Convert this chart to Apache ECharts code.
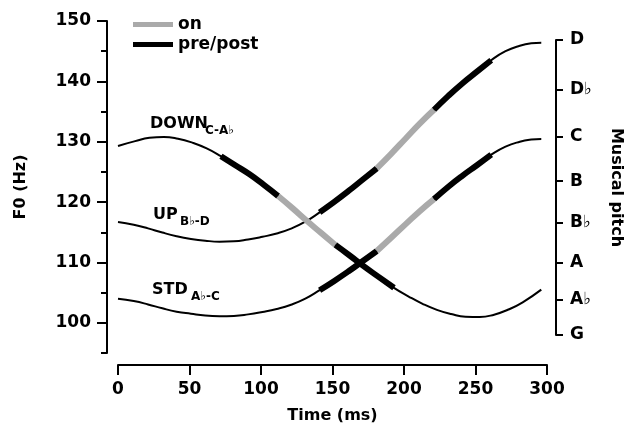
<!DOCTYPE html>
<html>
<head>
<meta charset="utf-8">
<script src="https://cdn.jsdelivr.net/npm/echarts@6/dist/echarts.min.js"></script>
<style>
  html, body { margin: 0; padding: 0; background: #fff; }
  #chart { width: 634px; height: 431px; }
</style>
</head>
<body>
<div id="chart"></div>
<script>
// F0 contours (time in ms, F0 in Hz)
const downTime = [0, 12, 22, 32, 42, 52, 62, 72, 82, 92, 102, 112, 122, 132, 142, 152, 162, 172, 182, 193, 203, 213, 223, 233, 243, 253, 263, 273, 283, 296];
const downF0 = [129.3, 130.1, 130.65, 130.8, 130.5, 129.85, 128.9, 127.6, 126.1, 124.6, 122.85, 121.0, 119.0, 116.9, 114.9, 112.9, 111.15, 109.35, 107.65, 105.8, 104.4, 103.15, 102.15, 101.45, 101.0, 100.95, 101.35, 102.2, 103.4, 105.5];

const upTime = [0, 11, 21, 31, 41, 51, 61, 71, 81, 91, 101, 111, 121, 131, 141, 151, 161, 171, 181, 191, 201, 211, 221, 231, 241, 251, 261, 271, 281, 289, 296];
const upF0 = [116.7, 116.25, 115.65, 114.95, 114.35, 113.9, 113.6, 113.45, 113.5, 113.8, 114.25, 114.8, 115.6, 116.75, 118.3, 120.0, 121.8, 123.7, 125.6, 128.0, 130.5, 133.0, 135.3, 137.6, 139.7, 141.6, 143.5, 145.0, 145.9, 146.3, 146.4];

const stdTime = [0, 11, 21, 31, 41, 51, 61, 71, 81, 91, 101, 111, 121, 131, 141, 151, 161, 171, 181, 191, 201, 211, 221, 231, 241, 251, 261, 271, 281, 289, 296];
const stdF0 = [104.0, 103.6, 103.05, 102.4, 101.85, 101.5, 101.2, 101.1, 101.15, 101.4, 101.8, 102.3, 103.0, 104.0, 105.4, 106.9, 108.5, 110.2, 111.9, 114.1, 116.3, 118.5, 120.5, 122.55, 124.4, 126.1, 127.85, 129.2, 130.0, 130.35, 130.45];

// phase boundaries: pre start, on start, post start, post end
const downPhases = [72, 112, 152, 193];
const upPhases = [141, 181, 221, 261];
const stdPhases = [141, 181, 221, 261];

const xTicks = [0, 50, 100, 150, 200, 250, 300];
const f0Major = [100, 110, 120, 130, 140, 150];
const f0Minor = [95, 105, 115, 125, 135, 145];
const pitchHz = [98.0, 103.83, 110.0, 116.54, 123.47, 130.81, 138.59, 146.83];
const pitchNames = ['G', 'A♭', 'A', 'B♭', 'B', 'C', 'D♭', 'D'];

const FONT = 'DejaVu Sans';
const GRAY = '#aaaaaa';

function pairs(times, vals, from, to) {
  const out = [];
  times.forEach((t, i) => {
    if (t >= from && t <= to) out.push([t, vals[i]]);
  });
  return out;
}

function thin(times, vals) {
  return {
    type: 'line', xAxisIndex: 0, yAxisIndex: 0,
    data: pairs(times, vals, -Infinity, Infinity),
    smooth: 0.5, showSymbol: false, silent: true,
    lineStyle: { color: '#000', width: 2 }, z: 2
  };
}

function thick(name, color, times, vals, from, to) {
  return {
    name: name, type: 'line', xAxisIndex: 0, yAxisIndex: 0,
    data: pairs(times, vals, from, to),
    smooth: 0.5, showSymbol: false, silent: true,
    itemStyle: { color: color },
    lineStyle: { color: color, width: 6, cap: 'butt' }, z: 3
  };
}

function phases(times, vals, p) {
  return [
    thick('pre/post', '#000', times, vals, p[0], p[1]),
    thick('on', GRAY, times, vals, p[1], p[2]),
    thick('pre/post', '#000', times, vals, p[2], p[3])
  ];
}

const tickLabel = { color: '#000', fontFamily: FONT, fontWeight: 'bold', fontSize: 17 };
const nameStyle = { color: '#000', fontFamily: FONT, fontWeight: 'bold', fontSize: 16 };
const axisLine = { show: true, onZero: false, lineStyle: { color: '#000', width: 2 } };

// curve label with subscript
function label(x, y, main, sub, subX, subY) {
  return [
    { type: 'text', x: x, y: y, style: { text: main, fill: '#000', font: 'bold 16px "' + FONT + '"', verticalAlign: 'middle' } },
    { type: 'text', x: subX, y: subY, style: { text: sub, fill: '#000', font: 'bold 12px "' + FONT + '"', verticalAlign: 'middle' } }
  ];
}

const chart = echarts.init(document.getElementById('chart'));
chart.setOption({
  animation: false,
  backgroundColor: '#fff',
  grid: [
    { left: 118, right: 87, top: 21, bottom: 78 },
    { left: 118, right: 87, top: 40, bottom: 96 }
  ],
  legend: {
    orient: 'vertical', left: 128, top: 11, itemGap: 3,
    icon: 'rect', itemWidth: 40, itemHeight: 5,
    selectedMode: false,
    data: [
      { name: 'on', itemStyle: { color: GRAY } },
      { name: 'pre/post', itemStyle: { color: '#000' } }
    ],
    textStyle: { color: '#000', fontFamily: FONT, fontWeight: 'bold', fontSize: 17 }
  },
  xAxis: [
    {
      gridIndex: 0, type: 'value', min: 0, max: 300, interval: 50, offset: 12,
      axisLine: axisLine,
      axisTick: { show: true, length: 10, customValues: xTicks, lineStyle: { color: '#000', width: 2 } },
      axisLabel: { margin: 16, customValues: xTicks, ...tickLabel },
      splitLine: { show: false },
      name: 'Time (ms)', nameLocation: 'middle', nameGap: 43, nameTextStyle: nameStyle
    },
    { gridIndex: 1, type: 'value', min: 0, max: 300, show: false }
  ],
  yAxis: [
    {
      gridIndex: 0, type: 'value', min: 95, max: 150, position: 'left', offset: 11,
      axisLine: axisLine,
      axisTick: { show: true, length: 10, customValues: f0Major, lineStyle: { color: '#000', width: 2 } },
      axisLabel: { margin: 16, customValues: f0Major, ...tickLabel },
      splitLine: { show: false },
      name: 'F0 (Hz)', nameLocation: 'middle', nameRotate: 90, nameGap: 78, nameTextStyle: nameStyle
    },
    {
      gridIndex: 0, type: 'value', min: 95, max: 150, position: 'left', offset: 11,
      axisLine: { show: false, onZero: false },
      axisTick: { show: true, length: 6, customValues: f0Minor, lineStyle: { color: '#000', width: 2 } },
      axisLabel: { show: false },
      splitLine: { show: false }
    },
    {
      gridIndex: 1, type: 'value', min: 98.0, max: 146.83, position: 'right', offset: 9,
      axisLine: axisLine,
      axisTick: { show: true, length: 7, customValues: pitchHz, lineStyle: { color: '#000', width: 2 } },
      axisLabel: {
        margin: 14, customValues: pitchHz, ...tickLabel,
        formatter: v => {
          let best = 0;
          pitchHz.forEach((h, i) => { if (Math.abs(h - v) < Math.abs(pitchHz[best] - v)) best = i; });
          return pitchNames[best];
        }
      },
      splitLine: { show: false },
      name: 'Musical pitch', nameLocation: 'middle', nameRotate: -90, nameGap: 52, nameTextStyle: nameStyle
    }
  ],
  graphic: [
    ...label(150, 124, 'DOWN', 'C-A♭', 205, 131),
    ...label(153, 215, 'UP', 'B♭-D', 180, 222),
    ...label(152, 290, 'STD', 'A♭-C', 191, 297)
  ],
  series: [
    thin(downTime, downF0),
    thin(upTime, upF0),
    thin(stdTime, stdF0),
    ...phases(downTime, downF0, downPhases),
    ...phases(upTime, upF0, upPhases),
    ...phases(stdTime, stdF0, stdPhases)
  ]
});
</script>
</body>
</html>
